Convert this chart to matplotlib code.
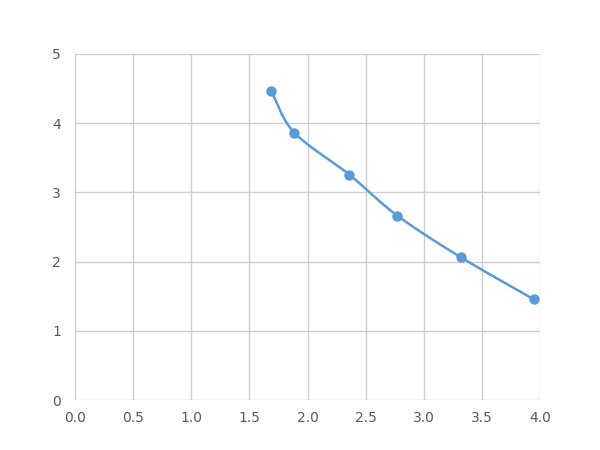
import numpy as np
import matplotlib
matplotlib.use("Agg")
import matplotlib.pyplot as plt

# values
x_vals = [1.685, 1.886, 2.359, 2.771, 3.322, 3.947]
y_vals = [4.471, 3.865, 3.258, 2.666, 2.060, 1.454]

x_ticks = [0.0, 0.5, 1.0, 1.5, 2.0, 2.5, 3.0, 3.5, 4.0]
y_ticks = [0, 1, 2, 3, 4, 5]

blue = "#5B9BD5"
grid_col = "#CFCFCF"
text_col = "#595959"


def smooth(xs, ys, n=30):
    # Catmull-Rom style smoothing, like Excel's smoothed line
    p = np.column_stack([xs, ys])
    p = np.vstack([p[0] - (p[1] - p[0]), p, p[-1] + (p[-1] - p[-2])])
    out = []
    t = np.linspace(0, 1, n)[:, None]
    for i in range(1, len(p) - 2):
        p0, p1, p2, p3 = p[i - 1], p[i], p[i + 1], p[i + 2]
        c1 = p1 + (p2 - p0) / 6
        c2 = p2 - (p3 - p1) / 6
        seg = ((1 - t) ** 3) * p1 + 3 * ((1 - t) ** 2) * t * c1 + 3 * (1 - t) * t ** 2 * c2 + t ** 3 * p2
        out.append(seg)
    out = np.vstack(out)
    return out[:, 0], out[:, 1]


fig = plt.figure(figsize=(6, 4.5), dpi=100)
ax = fig.add_axes([0.125, 0.111, 0.775, 0.769])

sx, sy = smooth(x_vals, y_vals)
ax.plot(sx, sy, color=blue, linewidth=1.8, zorder=3)
ax.plot(x_vals, y_vals, "o", color=blue, markersize=6.5, zorder=4)

ax.set_xlim(0, 4)
ax.set_ylim(0, 5)
ax.set_xticks(x_ticks)
ax.set_xticklabels([f"{v:.1f}" for v in x_ticks])
ax.set_yticks(y_ticks)
ax.grid(True, color=grid_col, linewidth=1)
ax.set_axisbelow(True)
for s in ax.spines.values():
    s.set_visible(False)
ax.tick_params(length=0, labelsize=10, labelcolor=text_col, pad=8)
ax.tick_params(axis="y", pad=10)

fig.savefig("out.png", dpi=100)
